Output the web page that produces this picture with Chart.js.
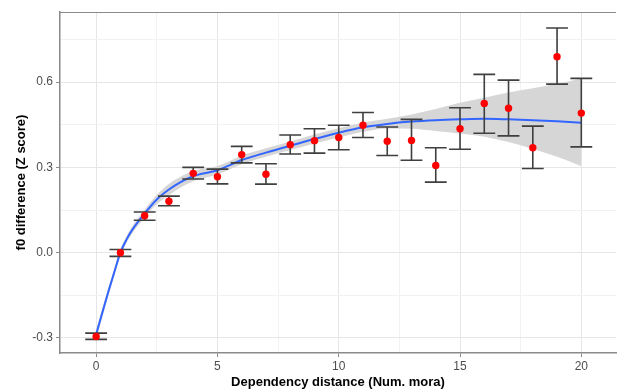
<!DOCTYPE html>
<html>
<head>
<meta charset="utf-8">
<script src="https://cdn.jsdelivr.net/npm/chart.js@4"></script>
<style>
  html, body { margin: 0; padding: 0; background: #fff; overflow: hidden; }
  #wrap { width: 620px; height: 389px; position: relative; }
</style>
</head>
<body>
<div id="wrap"><canvas id="f0Chart"></canvas></div>
<script>
// observed means with error bars, one per dependency distance
const distances = [0, 1, 2, 3, 4, 5, 6, 7, 8, 9, 10, 11, 12, 13, 14, 15, 16, 17, 18, 19, 20];
const meanDiff  = [-0.295, 0.000, 0.130, 0.181, 0.279, 0.267, 0.345, 0.276, 0.380, 0.394, 0.405,
                   0.448, 0.392, 0.395, 0.307, 0.436, 0.525, 0.508, 0.369, 0.689, 0.491];
const errLow    = [-0.305, -0.013, 0.114, 0.165, 0.259, 0.242, 0.316, 0.241, 0.347, 0.350, 0.362,
                   0.405, 0.342, 0.325, 0.248, 0.364, 0.420, 0.411, 0.296, 0.593, 0.372];
const errHigh   = [-0.283, 0.011, 0.143, 0.199, 0.300, 0.294, 0.374, 0.313, 0.414, 0.436, 0.448,
                   0.493, 0.442, 0.469, 0.369, 0.510, 0.627, 0.607, 0.445, 0.790, 0.613];

// smoothed fit and its confidence band
const smoothX     = [0, 0.25, 0.5, 0.75, 1, 1.25, 1.5, 2, 2.5, 3, 3.5, 4, 5, 6, 7, 8, 9, 10,
                     11, 12, 13, 14, 15, 16, 17, 18, 19, 20];
const smoothY     = [-0.288, -0.212, -0.138, -0.068, 0.000, 0.046, 0.082, 0.138, 0.187, 0.222, 0.249, 0.269,
                     0.290, 0.326, 0.352, 0.376, 0.400, 0.422, 0.441, 0.453, 0.461, 0.466, 0.469, 0.471,
                     0.469, 0.466, 0.462, 0.457];
const smoothUpper = [-0.270, -0.196, -0.124, -0.055, 0.012, 0.058, 0.095, 0.152, 0.204, 0.242, 0.268, 0.287,
                     0.305, 0.341, 0.367, 0.391, 0.416, 0.438, 0.458, 0.471, 0.486, 0.505, 0.527, 0.545,
                     0.563, 0.578, 0.594, 0.613];
const smoothLower = [-0.306, -0.228, -0.152, -0.081, -0.012, 0.034, 0.069, 0.124, 0.170, 0.202, 0.230, 0.251,
                     0.275, 0.311, 0.337, 0.361, 0.384, 0.405, 0.425, 0.437, 0.436, 0.428, 0.419, 0.408,
                     0.389, 0.365, 0.337, 0.304];

const xMajor = [0, 5, 10, 15, 20];
const xMinor = [2.5, 7.5, 12.5, 17.5];
const yMajor = [-0.3, 0.0, 0.3, 0.6];
const yMinor = [-0.15, 0.15, 0.45, 0.75];

const toPoints = (xs, ys) => xs.map((x, i) => ({ x: x, y: ys[i] }));
const isMajor = (list, v) => list.some(m => Math.abs(m - v) < 1e-9);

// error bars are drawn right before the red points
const errorBars = {
    id: 'errorBars',
    beforeDatasetDraw(chart, args) {
        if (args.index !== 0) return;
        const { ctx, scales: { x, y } } = chart;
        ctx.save();
        ctx.strokeStyle = '#3f3f3f';
        ctx.lineWidth = 1.6;
        distances.forEach((d, i) => {
            const px = x.getPixelForValue(d);
            const left = x.getPixelForValue(d - 0.45);
            const right = x.getPixelForValue(d + 0.45);
            const top = y.getPixelForValue(errHigh[i]);
            const bot = y.getPixelForValue(errLow[i]);
            ctx.beginPath();
            ctx.moveTo(px, top); ctx.lineTo(px, bot);
            ctx.moveTo(left, top); ctx.lineTo(right, top);
            ctx.moveTo(left, bot); ctx.lineTo(right, bot);
            ctx.stroke();
        });
        ctx.restore();
    }
};

// panel border (top side; left and bottom come from the axes)
const panelBorder = {
    id: 'panelBorder',
    afterDraw(chart) {
        const { ctx, chartArea } = chart;
        ctx.save();
        ctx.strokeStyle = '#8a8a8a';
        ctx.lineWidth = 1.2;
        ctx.beginPath();
        ctx.moveTo(chartArea.left, chartArea.top + 0.5);
        ctx.lineTo(chartArea.right, chartArea.top + 0.5);
        ctx.stroke();
        ctx.restore();
    }
};

const tickFont = { family: '"Liberation Sans", Arial, sans-serif', size: 12 };
const titleFont = { family: '"Liberation Sans", Arial, sans-serif', size: 13, weight: 'bold', lineHeight: 1 };

new Chart(document.getElementById('f0Chart'), {
    type: 'line',
    data: {
        datasets: [
            {
                label: 'mean',
                type: 'scatter',
                data: toPoints(distances, meanDiff),
                backgroundColor: '#ff0000',
                borderColor: '#ff0000',
                pointRadius: 3.7,
                borderWidth: 0
            },
            {
                label: 'fit',
                data: toPoints(smoothX, smoothY),
                borderColor: '#3366ff',
                borderWidth: 2,
                pointRadius: 0,
                cubicInterpolationMode: 'monotone',
                fill: false
            },
            {
                label: 'upper',
                data: toPoints(smoothX, smoothUpper),
                borderWidth: 0,
                borderColor: 'rgba(0,0,0,0)',
                backgroundColor: '#d6d6d6',
                pointRadius: 0,
                cubicInterpolationMode: 'monotone',
                fill: 3
            },
            {
                label: 'lower',
                data: toPoints(smoothX, smoothLower),
                borderWidth: 0,
                borderColor: 'rgba(0,0,0,0)',
                pointRadius: 0,
                cubicInterpolationMode: 'monotone',
                fill: false
            }
        ]
    },
    options: {
        responsive: true,
        maintainAspectRatio: false,
        animation: false,
        devicePixelRatio: 1,
        layout: { padding: { top: 12, left: 0, right: 0, bottom: 0 } },
        plugins: {
            legend: { display: false },
            tooltip: { enabled: false }
        },
        scales: {
            x: {
                type: 'linear',
                min: -1.49,
                max: 21.43,
                afterBuildTicks: s => { s.ticks = xMajor.concat(xMinor).map(v => ({ value: v })); },
                afterFit: s => { s.height = 36; },
                ticks: {
                    color: '#4d4d4d',
                    font: tickFont,
                    padding: 2,
                    maxRotation: 0,
                    autoSkip: false,
                    callback: v => isMajor(xMajor, v) ? String(v) : ''
                },
                grid: {
                    color: c => isMajor(xMajor, c.tick.value) ? '#e6e6e6' : '#f2f2f2',
                    lineWidth: 1,
                    tickLength: 4,
                    tickColor: c => isMajor(xMajor, c.tick.value) ? '#8a8a8a' : 'rgba(0,0,0,0)'
                },
                border: { color: '#8a8a8a', width: 1.5 },
                title: {
                    display: true,
                    text: 'Dependency distance (Num. mora)',
                    color: '#000',
                    font: titleFont,
                    padding: { top: 0, bottom: 0 }
                }
            },
            y: {
                type: 'linear',
                min: -0.3528,
                max: 0.8465,
                afterBuildTicks: s => { s.ticks = yMajor.concat(yMinor).map(v => ({ value: v })); },
                afterFit: s => { s.width = 60; },
                ticks: {
                    color: '#4d4d4d',
                    font: tickFont,
                    padding: 3,
                    autoSkip: false,
                    callback: v => isMajor(yMajor, v) ? v.toFixed(1) : ''
                },
                grid: {
                    color: c => isMajor(yMajor, c.tick.value) ? '#e6e6e6' : '#f2f2f2',
                    lineWidth: 1,
                    tickLength: 4,
                    tickColor: c => isMajor(yMajor, c.tick.value) ? '#8a8a8a' : 'rgba(0,0,0,0)'
                },
                border: { color: '#8a8a8a', width: 1.5 },
                title: {
                    display: true,
                    text: 'f0 difference (Z score)',
                    color: '#000',
                    font: titleFont,
                    padding: { top: 15, bottom: 0 }
                }
            }
        }
    },
    plugins: [errorBars, panelBorder]
});
</script>
</body>
</html>
